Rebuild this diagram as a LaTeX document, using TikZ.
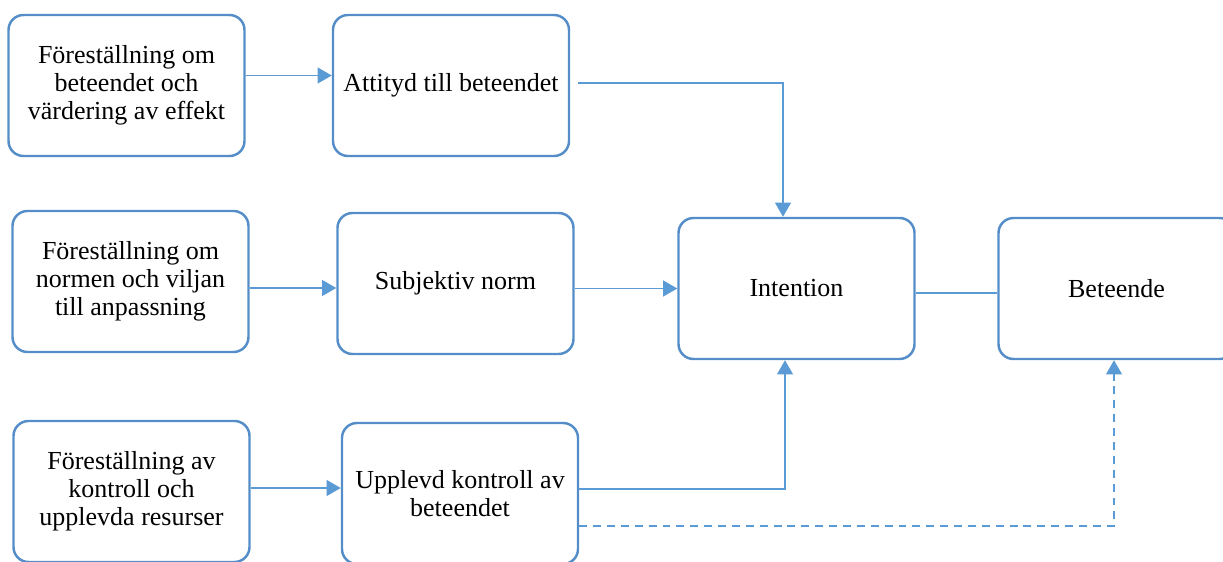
\documentclass[tikz,border=0pt]{standalone}
\usepackage{fontspec}
\setmainfont{Liberation Serif}
\usetikzlibrary{arrows.meta}
\definecolor{boxblue}{RGB}{84,141,200}
\definecolor{lineblue}{RGB}{91,155,213}
\tikzset{
 box/.style={draw=boxblue, line width=1.4pt, rounded corners=0.3cm, minimum width=4.72cm, minimum height=2.82cm, align=center, font=\fontsize{14.8}{16}\selectfont},
 conn/.style={draw=lineblue, line width=0.75pt},
 arr/.style={conn, -{Triangle[length=8pt,width=9pt]}}
}
\begin{document}
\begin{tikzpicture}
\useasboundingbox (0,0) rectangle (24.46,11.22);

\node[box] (A1) at (2.53,9.51) {Föreställning om\\beteendet och\\värdering av effekt};
\node[box] (B1) at (9.02,9.51) {Attityd till beteendet};
\node[box] (A2) at (2.61,5.59) {Föreställning om\\normen och viljan\\till anpassning};
\node[box] (B2) at (9.11,5.55) {Subjektiv norm};
\node[box] (I) at (15.93,5.45) {Intention};
\node[box] (Bt) at (22.33,5.45) {Beteende};
\node[box] (A3) at (2.63,1.39) {Föreställning av\\kontroll och\\upplevda resurser};
\node[box] (C3) at (9.20,1.35) {Upplevd kontroll av\\beteendet};

% vanliga pilar
\coordinate (a1o) at ([yshift=0.2cm]A1.east);
\draw[arr] (a1o) -- (a1o -| B1.west);
\coordinate (a2o) at ([yshift=-0.13cm]A2.east);
\draw[arr] (a2o) -- (a2o -| B2.west);
\coordinate (a3o) at ([yshift=0.07cm]A3.east);
\draw[arr] (a3o) -- (a3o -| C3.west);

\draw[arr] ([xshift=0.16cm,yshift=0.05cm]B1.east) -| ([xshift=-0.27cm]I.north);
\draw[arr] (I.west -| B2.east) -- (I.west);
\draw[arr] ([yshift=0.09cm]C3.east) -| ([xshift=-0.23cm]I.south);
\draw[conn] ([yshift=-0.09cm]I.east) -- ([yshift=-0.09cm]Bt.west);

%\draw[conn] (C3.east) -- (Bt.west);
\draw[arr,dash pattern=on 4.5pt off 3.4pt] ([yshift=-0.65cm]C3.east) -| ([xshift=-0.05cm]Bt.south);
\end{tikzpicture}
\end{document}
